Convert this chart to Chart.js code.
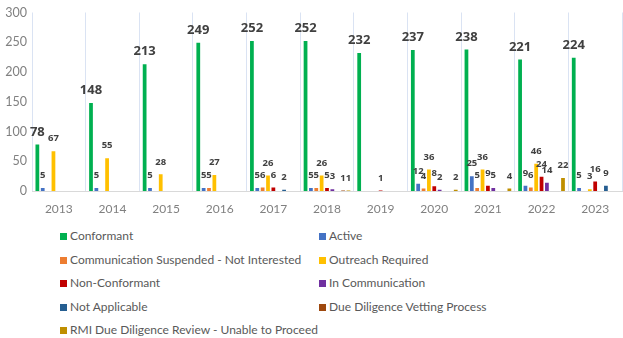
<!DOCTYPE html>
<html>
<head>
<meta charset="utf-8">
<script src="https://cdn.jsdelivr.net/npm/chart.js@4/dist/chart.umd.min.js"></script>
<style>
  html, body { margin: 0; padding: 0; background: #fff; }
  #wrap { position: relative; width: 623px; height: 338px; font-family: Lato, "Open Sans", sans-serif; }
  #chartBox { position: absolute; left: 0; top: 0; width: 623px; height: 221px; }
  #legend { position: absolute; left: 60px; top: 227px; display: grid; grid-template-columns: 259px 300px; row-gap: 0; }
  .item { height: 23.5px; line-height: 18px; font-size: 12px; color: #595959; white-space: nowrap; }
  .item i { display: inline-block; width: 7px; height: 7px; margin-right: 3px; vertical-align: 0px; }
</style>
</head>
<body>
<div id="wrap">
  <div id="chartBox"><canvas id="statusChart"></canvas></div>
  <div id="legend"></div>
</div>
<script>
  const years = ['2013', '2014', '2015', '2016', '2017', '2018', '2019', '2020', '2021', '2022', '2023'];
  const yTicks = [0, 50, 100, 150, 200, 250, 300];

  const conformant     = [78, 148, 213, 249, 252, 252, 232, 237, 238, 221, 224];
  const active         = [5, 5, 5, 5, 5, 5, 0, 12, 25, 9, 5];
  const commSuspended  = [0, 0, 0, 5, 6, 5, 0, 4, 5, 6, 0];
  const outreach       = [67, 55, 28, 27, 26, 26, 0, 36, 36, 46, 3];
  const nonConformant  = [0, 0, 0, 0, 6, 5, 1, 8, 9, 24, 16];
  const inComm         = [0, 0, 0, 0, 0, 3, 0, 2, 5, 14, 0];
  const notApplicable  = [0, 0, 0, 0, 2, 0, 0, 0, 0, 0, 9];
  const dueDiligence   = [0, 0, 0, 0, 0, 1, 0, 0, 0, 0, 0];
  const rmiReview      = [0, 0, 0, 0, 0, 1, 0, 2, 4, 22, 0];

  const series = [
    { label: 'Conformant', data: conformant, color: '#00B050' },
    { label: 'Active', data: active, color: '#4472C4' },
    { label: 'Communication Suspended - Not Interested', data: commSuspended, color: '#ED7D31' },
    { label: 'Outreach Required', data: outreach, color: '#FFC000' },
    { label: 'Non-Conformant', data: nonConformant, color: '#C00000' },
    { label: 'In Communication', data: inComm, color: '#7030A0' },
    { label: 'Not Applicable', data: notApplicable, color: '#255E91' },
    { label: 'Due Diligence Vetting Process', data: dueDiligence, color: '#9E480E' },
    { label: 'RMI Due Diligence Review - Unable to Proceed', data: rmiReview, color: '#BF8F00' }
  ];

  // value labels above each non-zero bar
  const barLabels = {
    id: 'barLabels',
    afterDatasetsDraw(chart) {
      const ctx = chart.ctx;
      ctx.save();
      ctx.fillStyle = '#404040';
      ctx.textAlign = 'center';
      ctx.textBaseline = 'middle';
      chart.data.datasets.forEach((ds, i) => {
        const meta = chart.getDatasetMeta(i);
        ctx.font = i === 0 ? 'bold 13px "Open Sans", sans-serif' : 'bold 9.5px "Open Sans", sans-serif';
        meta.data.forEach((bar, j) => {
          const v = ds.data[j];
          if (!v) return;
          ctx.fillText(String(v), bar.x, bar.y - 12.5);
        });
      });
      ctx.restore();
    }
  };

  new Chart(document.getElementById('statusChart'), {
    type: 'bar',
    data: {
      labels: years,
      datasets: series.map(s => ({
        label: s.label,
        data: s.data,
        backgroundColor: s.color,
        categoryPercentage: 0.9,
        barPercentage: 0.7
      }))
    },
    options: {
      responsive: true,
      maintainAspectRatio: false,
      animation: false,
      layout: { padding: { top: 7, right: 1, left: 0, bottom: 0 } },
      plugins: {
        legend: { display: false },
        tooltip: { enabled: false }
      },
      scales: {
        x: {
          grid: { color: '#DAE3F3', drawTicks: false, offset: true },
          border: { color: '#D9D9D9' },
          ticks: { color: '#808080', font: { size: 12, family: 'Lato, sans-serif' }, padding: 11 },
          afterFit(scale) { scale.height = 30; }
        },
        y: {
          min: 0,
          max: 300,
          afterBuildTicks(scale) { scale.ticks = yTicks.map(v => ({ value: v })); },
          grid: { display: false, drawTicks: false },
          border: { display: false },
          ticks: { color: '#808080', font: { size: 12.5, family: 'Lato, sans-serif' }, padding: 5 },
          afterFit(scale) { scale.width = 32; }
        }
      }
    },
    plugins: [barLabels]
  });

  const legend = document.getElementById('legend');
  legend.innerHTML = series.map(s =>
    `<div class="item"><i style="background:${s.color}"></i>${s.label}</div>`
  ).join('');
</script>
</body>
</html>
